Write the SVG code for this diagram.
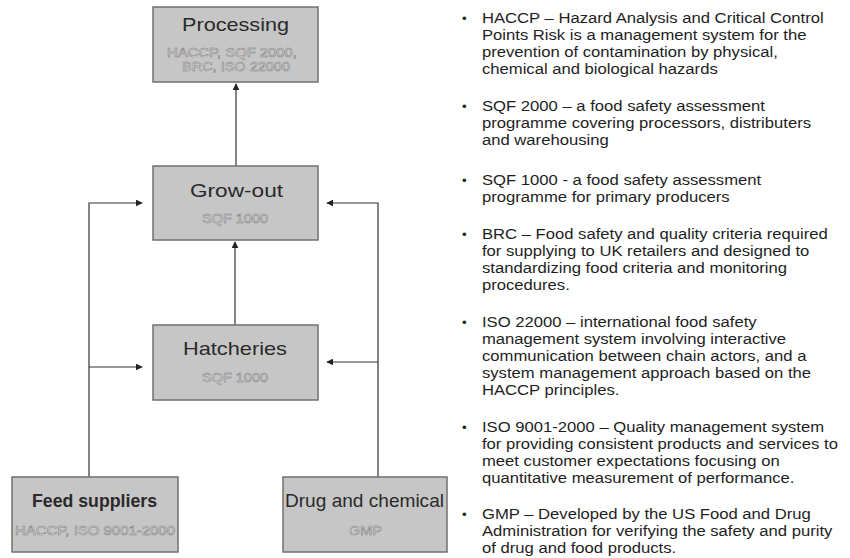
<svg xmlns="http://www.w3.org/2000/svg" width="850" height="558" viewBox="0 0 850 558">
<style>
.box{fill:#c6c6c6;stroke:#707070;stroke-width:1.5}
.title{font-family:"Liberation Sans",Arial,sans-serif;font-size:19px;fill:#2a2a2a;text-anchor:middle}
.sub{font-family:"Liberation Sans",Arial,sans-serif;font-size:12px;fill:#ececec;stroke:#7a7a7a;stroke-width:0.5;text-anchor:middle}
.conn{stroke:#333;stroke-width:1.2;fill:none}
.txt{font-family:"Liberation Sans",Arial,sans-serif;font-size:15px;fill:#1e1e1e}
</style>
<defs>
<marker id="ah" viewBox="0 0 10 10" refX="9" refY="5" markerWidth="7" markerHeight="7" markerUnits="userSpaceOnUse" orient="auto">
<path d="M0,0 L10,5 L0,10 z" fill="#222"/>
</marker>
</defs>
<rect width="850" height="558" fill="#ffffff"/>
<g id="connectors">
<line class="conn" x1="236" y1="166" x2="236" y2="84" marker-end="url(#ah)"/>
<line class="conn" x1="235" y1="325" x2="235" y2="242" marker-end="url(#ah)"/>
<polyline class="conn" points="89,477 89,203 142,203" marker-end="url(#ah)"/>
<line class="conn" x1="89" y1="367" x2="142" y2="367" marker-end="url(#ah)"/>
<polyline class="conn" points="378,477 378,203 327,203" marker-end="url(#ah)"/>
<line class="conn" x1="378" y1="362" x2="327" y2="362" marker-end="url(#ah)"/>
</g>
<g id="processing">
<rect class="box" x="153" y="7" width="165" height="75"/>
<text class="title" x="235.5" y="31" textLength="107" lengthAdjust="spacingAndGlyphs">Processing</text>
<text class="sub" x="232" y="57" textLength="130" lengthAdjust="spacingAndGlyphs">HACCP, SQF 2000,</text>
<text class="sub" x="236" y="71" textLength="108" lengthAdjust="spacingAndGlyphs">BRC, ISO 22000</text>
</g>
<g id="growout">
<rect class="box" x="153" y="166" width="165" height="74"/>
<text class="title" x="236.5" y="197" textLength="93" lengthAdjust="spacingAndGlyphs">Grow-out</text>
<text class="sub" x="235" y="223" textLength="66" lengthAdjust="spacingAndGlyphs">SQF 1000</text>
</g>
<g id="hatcheries">
<rect class="box" x="153" y="325" width="165" height="75"/>
<text class="title" x="235" y="355" textLength="104" lengthAdjust="spacingAndGlyphs">Hatcheries</text>
<text class="sub" x="235" y="382" textLength="66" lengthAdjust="spacingAndGlyphs">SQF 1000</text>
</g>
<g id="feed">
<rect class="box" x="12" y="477" width="166" height="75"/>
<text class="title" x="94.5" y="507" font-size="16" font-weight="bold" fill="#111" textLength="125" lengthAdjust="spacingAndGlyphs">Feed suppliers</text>
<text class="sub" x="95" y="535" textLength="160" lengthAdjust="spacingAndGlyphs">HACCP, ISO 9001-2000</text>
</g>
<g id="drug">
<rect class="box" x="283" y="477" width="164" height="75"/>
<text class="title" x="364.5" y="507" font-size="17" textLength="159" lengthAdjust="spacingAndGlyphs">Drug and chemical</text>
<text class="sub" x="365.5" y="535" textLength="33" lengthAdjust="spacingAndGlyphs">GMP</text>
</g>
<g id="legend" class="txt" transform="matrix(1.11 0 0 1 -53.02 0)">
<text x="464" y="23" font-size="12">•</text>
<text x="482" y="23">HACCP – Hazard Analysis and Critical Control</text>
<text x="482" y="40">Points Risk is a management system for the</text>
<text x="482" y="57">prevention of contamination by physical,</text>
<text x="482" y="74">chemical and biological hazards</text>
<text x="464" y="111" font-size="12">•</text>
<text x="482" y="111">SQF 2000 – a food safety assessment</text>
<text x="482" y="128">programme covering processors, distributers</text>
<text x="482" y="145">and warehousing</text>
<text x="464" y="185" font-size="12">•</text>
<text x="482" y="185">SQF 1000 - a food safety assessment</text>
<text x="482" y="202">programme for primary producers</text>
<text x="464" y="239" font-size="12">•</text>
<text x="482" y="239">BRC – Food safety and quality criteria required</text>
<text x="482" y="256">for supplying to UK retailers and designed to</text>
<text x="482" y="273">standardizing food criteria and monitoring</text>
<text x="482" y="290">procedures.</text>
<text x="464" y="327" font-size="12">•</text>
<text x="482" y="327">ISO 22000 – international food safety</text>
<text x="482" y="344">management system involving interactive</text>
<text x="482" y="361">communication between chain actors, and a</text>
<text x="482" y="378">system management approach based on the</text>
<text x="482" y="395">HACCP principles.</text>
<text x="464" y="432" font-size="12">•</text>
<text x="482" y="432">ISO 9001-2000 – Quality management system</text>
<text x="482" y="449">for providing consistent products and services to</text>
<text x="482" y="466">meet customer expectations focusing on</text>
<text x="482" y="483">quantitative measurement of performance.</text>
<text x="464" y="519" font-size="12">•</text>
<text x="482" y="519">GMP – Developed by the US Food and Drug</text>
<text x="482" y="536">Administration for verifying the safety and purity</text>
<text x="482" y="553">of drug and food products.</text>
</g>
</svg>
